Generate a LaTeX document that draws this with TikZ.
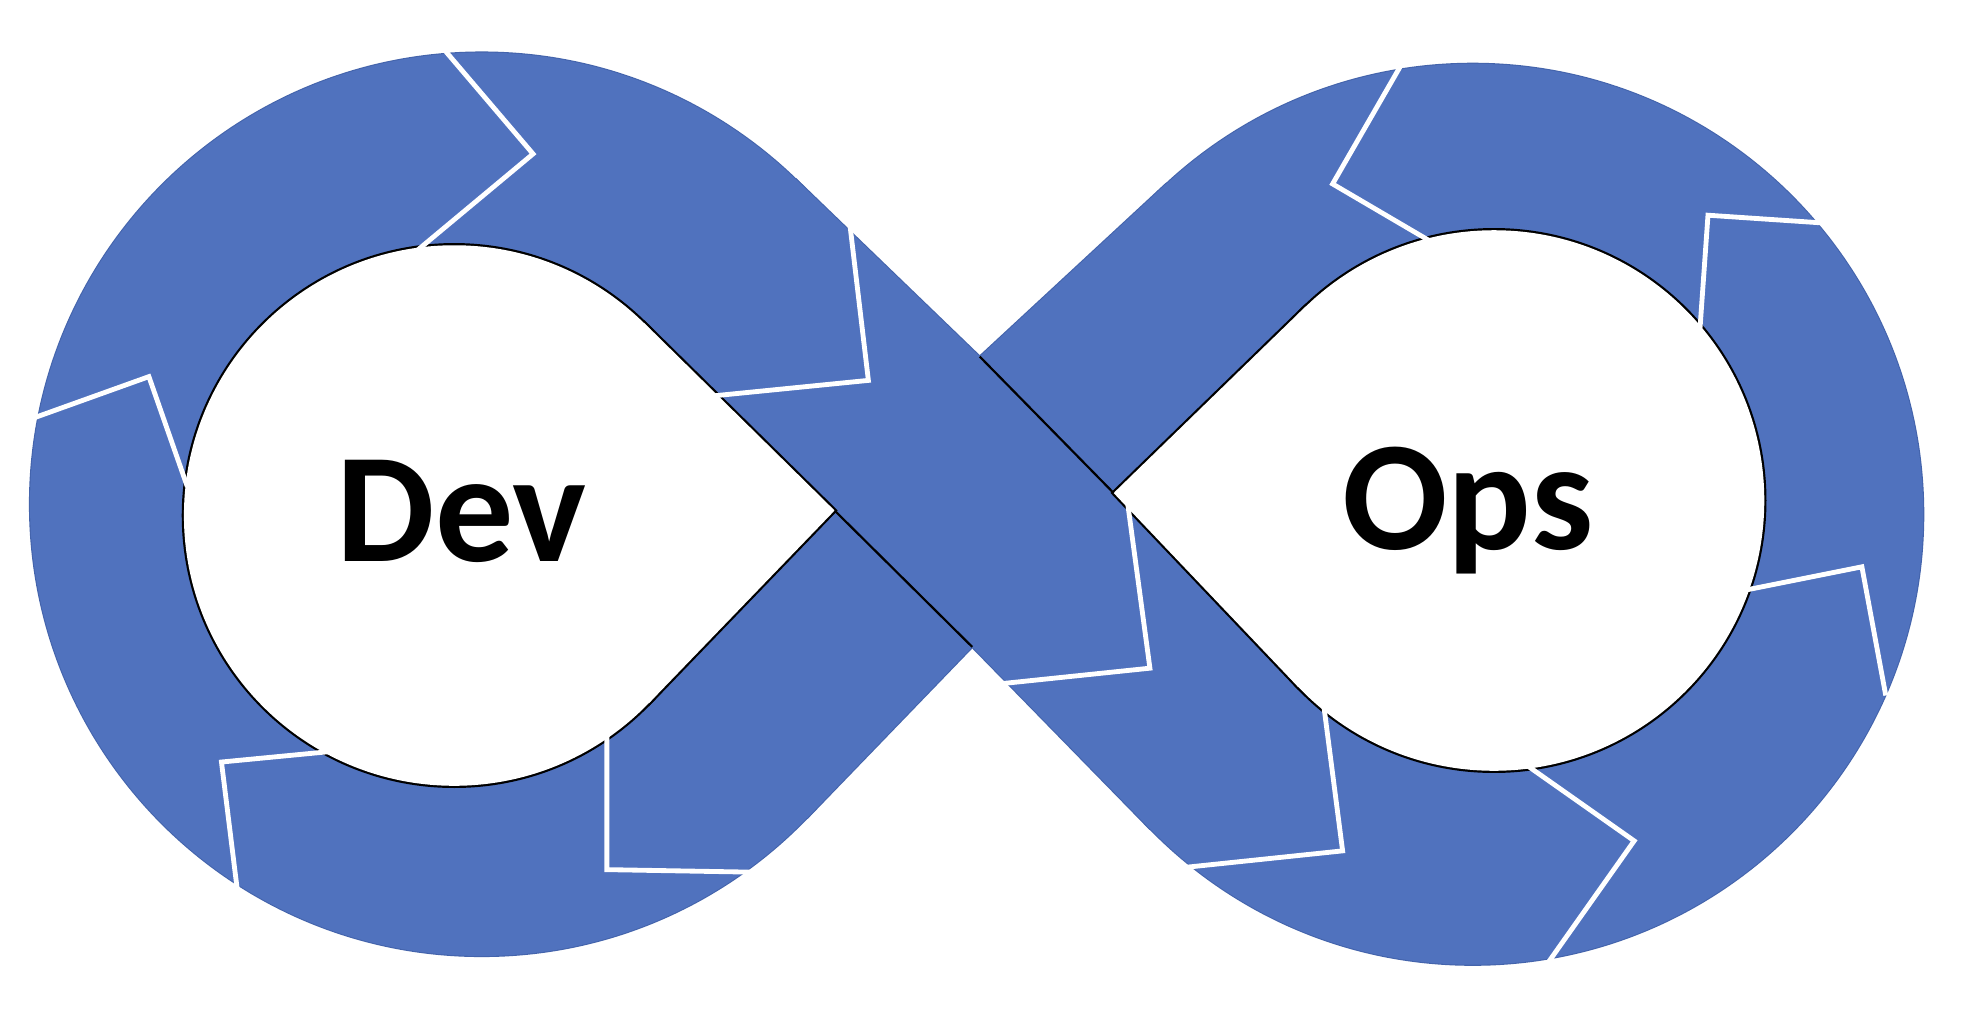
\documentclass[tikz,border=0pt]{standalone}
\usepackage{fontspec}
\setmainfont{Carlito}
\usetikzlibrary{calc}
\definecolor{band}{RGB}{80,114,190}
\definecolor{bandedge}{RGB}{68,100,172}
\begin{document}
\begin{tikzpicture}[x=0.01cm,y=-0.01cm,
  chev/.style={draw=white, line width=1.1pt, line join=miter, line cap=butt},
  crossline/.style={draw=black, line width=0.5pt},
  ring/.style={circle, minimum size=#1, inner sep=0pt, outer sep=0pt, draw=none},
  outerstroke/.style={draw=bandedge, line width=0.5pt, line join=round},
  holestroke/.style={draw=black, line width=1.0pt, line join=miter},
  lbl/.style={font=\fontsize{35.5}{40}\selectfont\bfseries, anchor=base, inner sep=0pt}]
\useasboundingbox (0,0) rectangle (1568,812);
\fill[white] (0,0) rectangle (1568,812);

% reference circles
\node[ring=7.22cm] (LO) at (385,403) {};
\node[ring=4.32cm] (LI) at (363,412) {};
\node[ring=7.20cm] (RO) at (1177,411) {};
\node[ring=4.32cm] (RI) at (1194,400) {};
\coordinate (LOc) at (385,403);
\coordinate (LIc) at (363,412);
\coordinate (ROc) at (1177,411);
\coordinate (RIc) at (1194,400);

% crossing vertices
\coordinate (T) at (783,285);
\coordinate (O) at (890,394);
\coordinate (Bv) at (777,517);
\coordinate (D) at (667,408);

% tangent points
\coordinate (LOt) at (tangent cs:node=LO,point={(T)},solution=1);
\coordinate (ROt) at (tangent cs:node=RO,point={(T)},solution=2);
\coordinate (ROb) at (tangent cs:node=RO,point={(Bv)},solution=1);
\coordinate (LOb) at (tangent cs:node=LO,point={(Bv)},solution=2);
\coordinate (LIa) at (tangent cs:node=LI,point={(D)},solution=1);
\coordinate (LIb) at (tangent cs:node=LI,point={(D)},solution=2);
\coordinate (RIa) at (tangent cs:node=RI,point={(O)},solution=1);
\coordinate (RIb) at (tangent cs:node=RI,point={(O)},solution=2);

% silhouette: outline pass, then fill
\draw[outerstroke] (LOc) circle[radius=361];
\draw[outerstroke] (ROc) circle[radius=360];
\draw[outerstroke] (LOt) -- (T) -- (ROt) -- (ROc) -- (ROb) -- (Bv) -- (LOb) -- (LOc) -- cycle;
\fill[band] (LOc) circle[radius=361];
\fill[band] (ROc) circle[radius=360];
\fill[band] (LOt) -- (T) -- (ROt) -- (ROc) -- (ROb) -- (Bv) -- (LOb) -- (LOc) -- cycle;

% holes: outline pass, then white fill
\draw[holestroke] (LIc) circle[radius=216];
\draw[holestroke] (D) -- (LIa) -- (LIc) -- (LIb) -- cycle;
\draw[holestroke] (RIc) circle[radius=216];
\draw[holestroke] (O) -- (RIa) -- (RIc) -- (RIb) -- cycle;
\fill[white] (LIc) circle[radius=216];
\fill[white] (D) -- (LIa) -- (LIc) -- (LIb) -- cycle;
\fill[white] (RIc) circle[radius=216];
\fill[white] (O) -- (RIa) -- (RIc) -- (RIb) -- cycle;

% edges of the upper band across the lower one
\draw[crossline] (T) -- (O);
\draw[crossline] (D) -- (Bv);

% white chevrons
\coordinate (c1a) at (357,42);  \coordinate (c1v) at (426,123); \coordinate (c1b) at (336,198);
\coordinate (c2a) at (680,186); \coordinate (c2v) at (694,304); \coordinate (c2b) at (574,316);
\coordinate (c3a) at (27,334);  \coordinate (c3v) at (119,301); \coordinate (c3b) at (148,384);
\coordinate (c4a) at (260,601); \coordinate (c4v) at (177,609); \coordinate (c4b) at (189,706);
\coordinate (c5a) at (485,590); \coordinate (c5v) at (485,695); \coordinate (c5b) at (600,697);
\coordinate (c6a) at (902,408); \coordinate (c6v) at (919,534); \coordinate (c6b) at (804,546);
\coordinate (c7a) at (1059,572);\coordinate (c7v) at (1073,680);\coordinate (c7b) at (949,693);
\coordinate (c8a) at (1225,615);\coordinate (c8v) at (1306,672);\coordinate (c8b) at (1241,764);
\coordinate (c9a) at (1398,471);\coordinate (c9v) at (1488,453);\coordinate (c9b) at (1506,550);
\coordinate (c10a) at (1359,257);\coordinate (c10v) at (1365,172);\coordinate (c10b) at (1454,178);
\coordinate (c11a) at (1140,191);\coordinate (c11v) at (1065,147);\coordinate (c11b) at (1118,55);
\foreach \i in {1,...,11}{
  \draw[chev] ($(c\i v)!1.06!(c\i a)$) -- (c\i v) -- ($(c\i v)!1.06!(c\i b)$);
}

% labels
\node[lbl] (dev) at (369,448.5) {Dev};
\node[lbl] (ops) at (1173,439.5) {Ops};
\end{tikzpicture}
\end{document}
